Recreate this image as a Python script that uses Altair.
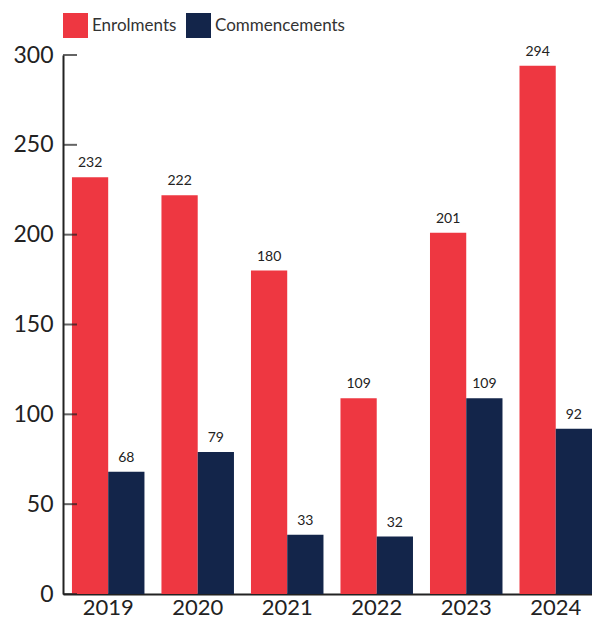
import altair as alt
import pandas as pd

years = ["2019", "2020", "2021", "2022", "2023", "2024"]
enrolments = [232, 222, 180, 109, 201, 294]
commencements = [68, 79, 33, 32, 109, 92]
series = ["Enrolments", "Commencements"]
colors = ["#EE3741", "#13254A"]
y_ticks = [0, 50, 100, 150, 200, 250, 300]

rows = []
for i, yr in enumerate(years):
    rows.append({"year": yr, "series": "Enrolments", "value": enrolments[i]})
    rows.append({"year": yr, "series": "Commencements", "value": commencements[i]})
df = pd.DataFrame(rows)
tick_df = pd.DataFrame({"v": y_ticks})

FONT = "Lato"
INK = "#222222"

x = alt.X(
    "year:N", sort=years, title=None,
    scale=alt.Scale(paddingInner=0.19, paddingOuter=0.05, align=1),
    axis=alt.Axis(labelAngle=0, labelFontSize=22, labelColor=INK, labelFont=FONT,
                  ticks=False, labelPadding=3, domainColor=INK, domainWidth=2),
)
xo = alt.XOffset("series:N", sort=series, scale=alt.Scale(paddingInner=0, paddingOuter=0))
y = alt.Y(
    "value:Q", title=None,
    scale=alt.Scale(domain=[0, 300], nice=False),
    axis=alt.Axis(values=y_ticks, ticks=False, grid=False, labelFontSize=23,
                  labelColor=INK, labelFont=FONT, labelPadding=10,
                  domainColor=INK, domainWidth=2),
)
color = alt.Color(
    "series:N", sort=series,
    scale=alt.Scale(domain=series, range=colors),
    legend=alt.Legend(title=None, orient="none", legendX=0, legendY=-42,
                      direction="horizontal", symbolType="square", symbolSize=625,
                      symbolStrokeWidth=0, symbolOpacity=1, labelFontSize=17,
                      labelFont=FONT, labelColor="#333333", labelOffset=4,
                      columnPadding=9, padding=0, labelLimit=300),
)

base = alt.Chart(df)
bars = base.mark_bar().encode(x=x, xOffset=xo, y=y, color=color)
labels = base.mark_text(dy=-10, baseline="alphabetic", fontSize=14, font=FONT,
                        color=INK).encode(x=x, xOffset=xo, y=y, text="value:Q")
ticks = alt.Chart(tick_df).mark_tick(orient="horizontal", size=14, thickness=2,
                                     color=INK).encode(
    y=alt.Y("v:Q"), x=alt.value(7)
)

chart = alt.layer(bars, labels, ticks).properties(
    width=529, height=539,
    autosize=alt.AutoSizeParams(type="none"),
    padding={"left": 55, "top": 47, "right": 0, "bottom": 28},
).configure_view(stroke=None)

chart.save("out.html", embed_options={"renderer": "svg", "actions": False})
